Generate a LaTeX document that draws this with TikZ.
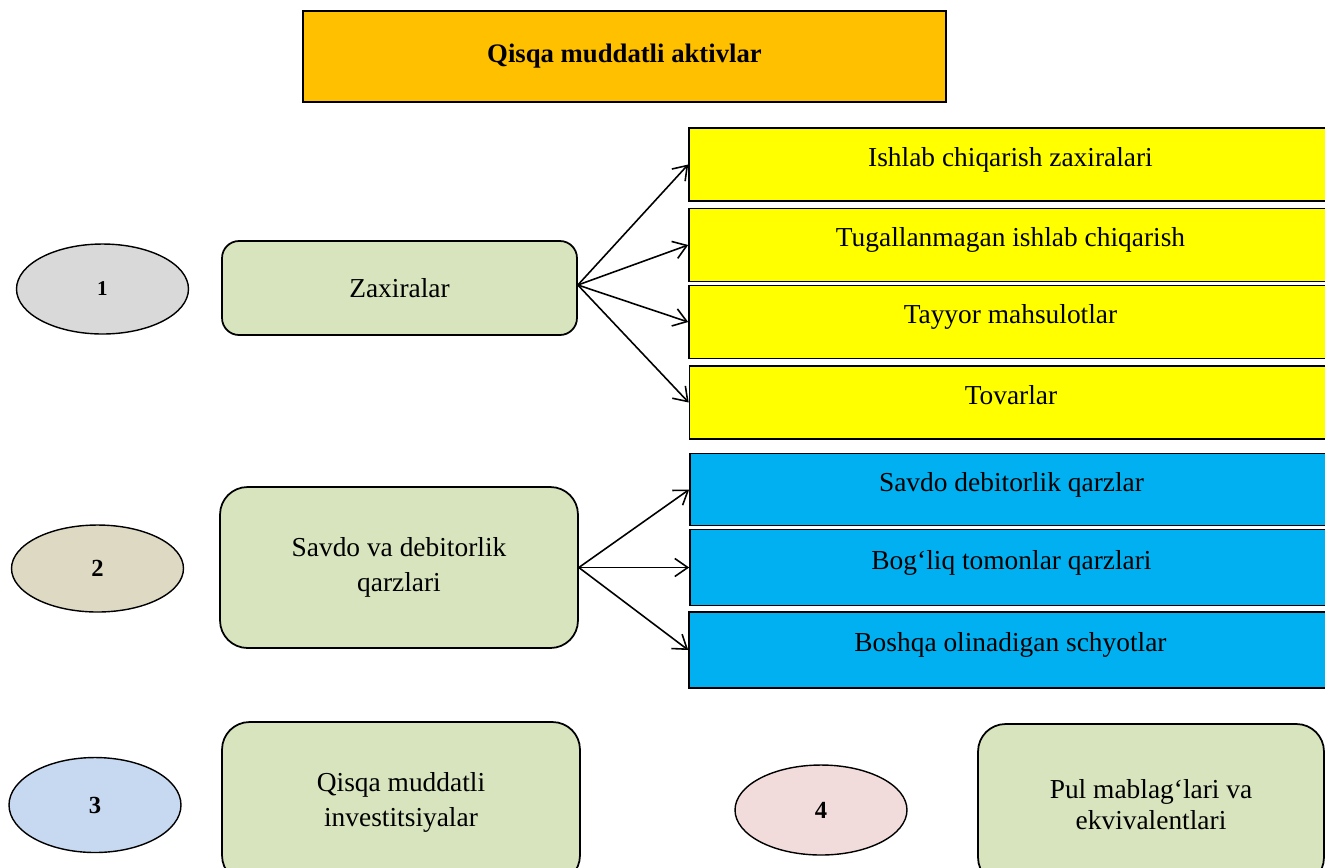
\documentclass[tikz,border=0pt]{standalone}
\usepackage{fontspec}
\setmainfont{Liberation Serif}
\usetikzlibrary{arrows.meta,shapes.geometric}
\definecolor{titleorange}{HTML}{FFC000}
\definecolor{groupgreen}{HTML}{D7E4BD}
\definecolor{stockyellow}{HTML}{FFFF00}
\definecolor{debtblue}{HTML}{00B0F0}
\definecolor{ovalgray}{HTML}{D9D9D9}
\definecolor{ovaltan}{HTML}{DDD9C3}
\definecolor{ovalblue}{HTML}{C6D9F1}
\definecolor{ovalpink}{HTML}{F2DCDB}

\begin{document}
\begin{tikzpicture}[x=0.02cm,y=-0.02cm,>={Straight Barb[length=2.6mm,width=3.6mm]},
    font=\fontsize{15.6pt}{20pt}\selectfont,
    titlebox/.style={draw,line width=1.2pt,fill=titleorange,minimum width=12.86cm,
        minimum height=1.82cm,font=\fontsize{15.2pt}{20pt}\selectfont\bfseries},
    numoval/.style={draw,ellipse,line width=.8pt,inner sep=0pt,minimum width=3.44cm,
        minimum height=1.8cm,font=\fontsize{14pt}{16pt}\selectfont\bfseries},
    groupbox/.style={draw,line width=1pt,fill=groupgreen,rounded corners=.55cm,
        align=center,inner sep=0pt,minimum width=7.16cm,minimum height=3.22cm},
    listbox/.style={draw,line width=1pt,minimum width=12.86cm,inner sep=0pt,
        text height=11pt,text depth=9pt},
    link/.style={->,line width=.9pt}]
  \useasboundingbox (0,0) rectangle (1325,867);
  \clip (0,0) rectangle (1325,867);

  \node[titlebox] (title) at (624.5,56.5) {Qisqa muddatli aktivlar};

  \node[numoval,fill=ovalgray,font=\fontsize{12pt}{14pt}\selectfont\bfseries] (n1) at (102.5,289) {1};
  \node[numoval,fill=ovaltan,minimum height=1.74cm] (n2) at (97.5,568.5) {2};
  \node[numoval,fill=ovalblue,minimum height=1.9cm] (n3) at (95,805) {3};
  \node[numoval,fill=ovalpink] (n4) at (821,810) {4};

  \node[groupbox,minimum width=7.1cm,minimum height=1.88cm,rounded corners=.34cm] (zax) at (399.5,288) {Zaxiralar};
  \node[groupbox] (savdo) at (399,567.5) {Savdo va debitorlik\\qarzlari};
  \node[groupbox] (invest) at (401,802.5) {Qisqa muddatli\\investitsiyalar};
  \node[groupbox,minimum width=6.92cm,font=\fontsize{15.6pt}{18pt}\selectfont] (pul) at (1151,804.5) {Pul mablag‘lari va\\ekvivalentlari};

  \node[listbox,fill=stockyellow,minimum height=1.46cm] (s1) at (1010.5,164.5) {Ishlab chiqarish zaxiralari};
  \node[listbox,fill=stockyellow,minimum height=1.46cm] (s2) at (1010.5,245) {Tugallanmagan ishlab chiqarish};
  \node[listbox,fill=stockyellow,minimum height=1.46cm] (s3) at (1010.5,322) {Tayyor mahsulotlar};
  \node[listbox,fill=stockyellow,minimum height=1.46cm] (s4) at (1011,402.5) {Tovarlar};

  \node[listbox,fill=debtblue,minimum height=1.44cm] (d1) at (1011.5,489.5) {Savdo debitorlik qarzlar};
  \node[listbox,fill=debtblue,minimum height=1.52cm] (d2) at (1011.5,567.5) {Bog‘liq tomonlar qarzlari};
  \node[listbox,fill=debtblue,minimum height=1.52cm] (d3) at (1010.5,650) {Boshqa olinadigan schyotlar};

  \foreach \s in {s1,s2,s3,s4}
    \draw[link] ([yshift=.06cm]zax.east) -- (\s.west);
  \foreach \d in {d1,d2,d3}
    \draw[link] (savdo.east) -- (\d.west);
\end{tikzpicture}
\end{document}
